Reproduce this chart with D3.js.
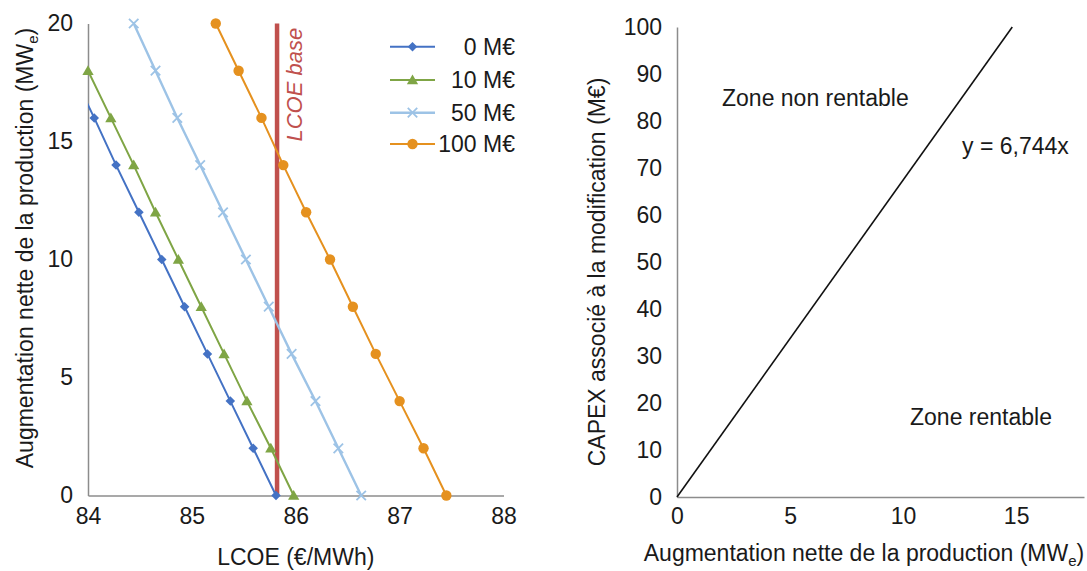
<!DOCTYPE html>
<html>
<head>
<meta charset="utf-8">
<script src="https://cdn.jsdelivr.net/npm/d3@7"></script>
<style>
  html, body { margin: 0; padding: 0; background: #fff; }
  svg { display: block; }
  text { font-family: "Liberation Sans", Arial, sans-serif; fill: #1a1a1a; }
</style>
</head>
<body>
<svg id="chart" width="1087" height="571"></svg>
<script>
// ---------- DATA ----------
// Left chart: net production increase (MWe) vs LCOE (€/MWh) for each CAPEX level
const leftYTicks = [0, 5, 10, 15, 20];
const leftXTicks = [84, 85, 86, 87, 88];
const seriesNames = ["0 M€", "10 M€", "50 M€", "100 M€"];
const prodLevels = [0, 2, 4, 6, 8, 10, 12, 14, 16, 18, 20];
const lcoe0   = [85.81, 85.59, 85.37, 85.15, 84.93, 84.71, 84.49, 84.27, 84.06, 83.84];
const lcoe10  = [85.98, 85.76, 85.53, 85.31, 85.09, 84.87, 84.65, 84.44, 84.22, 84.00];
const lcoe50  = [86.63, 86.41, 86.19, 85.96, 85.74, 85.52, 85.30, 85.08, 84.86, 84.65, 84.44];
const lcoe100 = [87.45, 87.23, 87.00, 86.77, 86.55, 86.33, 86.10, 85.88, 85.67, 85.45, 85.23];
const lcoeBase = 85.82;
const lcoeBaseLabel = "LCOE base";

// Right chart: CAPEX vs net production increase, y = 6.744 x
const rightXTicks = [0, 5, 10, 15];
const rightYTicks = [0, 10, 20, 30, 40, 50, 60, 70, 80, 90, 100];
const slope = 6.744;
const capexLine = [[0, 0], [100 / 6.744, 100]];
const equationLabel = "y = 6,744x";
const zoneLabels = ["Zone non rentable", "Zone rentable"];

// ---------- STYLE ----------
const colors = ["#4472c4", "#7fa545", "#9dc3e6", "#e5911f"];
const axisColor = "#8c8c8c";
const fs = 23;

const svg = d3.select("#chart");

// ---------- LEFT CHART ----------
const xL = d3.scaleLinear().domain([84, 88]).range([88, 503.5]);
const yL = d3.scaleLinear().domain([0, 20]).range([495.5, 23.5]);

svg.append("defs").append("clipPath").attr("id", "clipL")
  .append("rect").attr("x", xL(84)).attr("y", 0)
  .attr("width", xL(88) - xL(84)).attr("height", yL(0) + 1);

const gAxL = svg.append("g");
const axLY = gAxL.append("g").attr("transform", `translate(${xL(84)},0)`)
  .call(d3.axisLeft(yL).tickValues(leftYTicks).tickFormat(d3.format("d")).tickSize(0).tickPadding(15));
const axLX = gAxL.append("g").attr("transform", `translate(0,${yL(0)})`)
  .call(d3.axisBottom(xL).tickValues(leftXTicks).tickFormat(d3.format("d")).tickSize(0).tickPadding(12));
[axLY, axLX].forEach(a => {
  a.select(".domain").attr("stroke", axisColor).attr("stroke-width", 1.5);
  a.selectAll("text").style("font-size", fs + "px").attr("fill", "#1a1a1a")
    .style("font-family", '"Liberation Sans", Arial, sans-serif');
});

// base LCOE red line
svg.append("line")
  .attr("x1", xL(lcoeBase)).attr("x2", xL(lcoeBase))
  .attr("y1", yL(0)).attr("y2", yL(20))
  .attr("stroke", "#c0504d").attr("stroke-width", 4.5);
svg.append("text")
  .attr("transform", `translate(${xL(lcoeBase) + 25},${yL(0) - 354}) rotate(-90)`)
  .style("font-size", "22px").style("font-style", "italic")
  .attr("fill", "#c0504d").style("fill", "#c0504d")
  .text(lcoeBaseLabel);

const allSeries = [lcoe0, lcoe10, lcoe50, lcoe100];
const line = d3.line().x(d => xL(d[0])).y(d => yL(d[1]));

function drawMarker(g, type, color, cx, cy) {
  if (type === 0) {
    g.append("path").attr("d", d3.symbol(d3.symbolDiamond2, 58)())
      .attr("transform", `translate(${cx},${cy})`).attr("fill", color);
  } else if (type === 1) {
    g.append("path").attr("d", d3.symbol(d3.symbolTriangle, 55)())
      .attr("transform", `translate(${cx},${cy + 1})`).attr("fill", color);
  } else if (type === 2) {
    g.append("path").attr("d", d3.symbol(d3.symbolTimes, 60)())
      .attr("transform", `translate(${cx},${cy})`).attr("fill", "none")
      .attr("stroke", color).attr("stroke-width", 1.8);
  } else {
    g.append("circle").attr("cx", cx).attr("cy", cy).attr("r", 5.2).attr("fill", color);
  }
}

allSeries.forEach((vals, i) => {
  const pts = vals.map((v, k) => [v, prodLevels[k]]);
  svg.append("path").datum(pts)
    .attr("d", line).attr("fill", "none")
    .attr("stroke", colors[i]).attr("stroke-width", i === 2 ? 2.4 : 2)
    .attr("clip-path", "url(#clipL)");
  const g = svg.append("g");
  pts.filter(p => p[0] >= 84 && p[0] <= 88).forEach(p => drawMarker(g, i, colors[i], xL(p[0]), yL(p[1])));
});

// legend
const legRowY = [46.7, 80, 112.7, 144];
seriesNames.forEach((name, i) => {
  const g = svg.append("g");
  g.append("line").attr("x1", 390).attr("x2", 435).attr("y1", legRowY[i]).attr("y2", legRowY[i])
    .attr("stroke", colors[i]).attr("stroke-width", i === 2 ? 2.4 : 2);
  drawMarker(g, i, colors[i], 412.5, legRowY[i]);
  g.append("text").attr("x", 515).attr("y", legRowY[i]).attr("dy", "0.36em")
    .attr("text-anchor", "end").style("font-size", fs + "px").text(name);
});

// left axis titles
svg.append("text").attr("x", xL(86)).attr("y", 565)
  .attr("text-anchor", "middle").style("font-size", fs + "px").text("LCOE (€/MWh)");
const tL = svg.append("text")
  .attr("transform", `translate(33,248) rotate(-90)`)
  .attr("text-anchor", "middle").style("font-size", fs + "px");
tL.append("tspan").text("Augmentation nette de la production (MW");
tL.append("tspan").attr("dy", 5).style("font-size", "15px").text("e");
tL.append("tspan").attr("dy", -5).text(")");

// ---------- RIGHT CHART ----------
const xR = d3.scaleLinear().domain([0, 18]).range([677, 1084]);
const yR = d3.scaleLinear().domain([0, 100]).range([497, 27]);

const axRY = svg.append("g").attr("transform", `translate(${xR(0)},0)`)
  .call(d3.axisLeft(yR).tickValues(rightYTicks).tickSize(0).tickPadding(15));
const axRX = svg.append("g").attr("transform", `translate(0,${yR(0)})`)
  .call(d3.axisBottom(xR).tickValues(rightXTicks).tickSize(0).tickPadding(11));
[axRY, axRX].forEach(a => {
  a.select(".domain").attr("stroke", axisColor).attr("stroke-width", 1.5);
  a.selectAll("text").style("font-size", fs + "px").attr("fill", "#1a1a1a")
    .style("font-family", '"Liberation Sans", Arial, sans-serif');
});

svg.append("path").datum(capexLine)
  .attr("d", d3.line().x(d => xR(d[0])).y(d => yR(d[1])))
  .attr("fill", "none").attr("stroke", "#111").attr("stroke-width", 1.6);

svg.append("text").attr("x", 722).attr("y", 106).style("font-size", fs + "px").text(zoneLabels[0]);
svg.append("text").attr("x", 962).attr("y", 154).style("font-size", fs + "px").text(equationLabel);
svg.append("text").attr("x", 910).attr("y", 425).style("font-size", fs + "px").text(zoneLabels[1]);

const tRX = svg.append("text").attr("x", 864).attr("y", 561)
  .attr("text-anchor", "middle").style("font-size", fs + "px");
tRX.append("tspan").text("Augmentation nette de la production (MW");
tRX.append("tspan").attr("dy", 5).style("font-size", "15px").text("e");
tRX.append("tspan").attr("dy", -5).text(")");

svg.append("text")
  .attr("transform", `translate(605,272) rotate(-90)`)
  .attr("text-anchor", "middle").style("font-size", fs + "px")
  .text("CAPEX associé à la modification (M€)");
</script>
</body>
</html>
